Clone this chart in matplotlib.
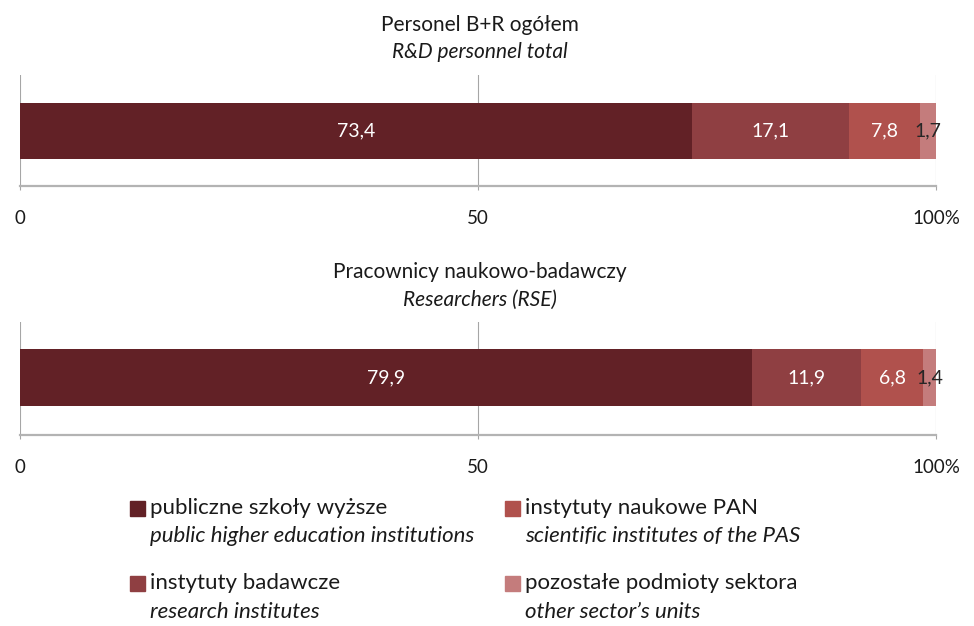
import matplotlib.pyplot as plt
from matplotlib.patches import Rectangle

plt.rcParams['font.family'] = ['Lato', 'DejaVu Sans']

sectors_pl = ["publiczne szkoły wyższe", "instytuty badawcze",
              "instytuty naukowe PAN", "pozostałe podmioty sektora"]
sectors_en = ["public higher education institutions", "research institutes",
              "scientific institutes of the PAS", "other sector\u2019s units"]
colors = ["#622126", "#8f3f42", "#b0514d", "#c47c7c"]
label_colors = ["white", "white", "white", "#262626"]

personnel = [73.4, 17.1, 7.8, 1.7]
researchers = [79.9, 11.9, 6.8, 1.4]

panels = [
    ("Personel B+R ogółem", "R&D personnel total", personnel, 0.7029, 0.1773, 0.495),
    ("Pracownicy naukowo-badawczy", "Researchers (RSE)", researchers, 0.3051, 0.1805, 0.509),
]

fig = plt.figure(figsize=(9.74, 6.26), dpi=100)

for title_pl, title_en, vals, bottom, height, ycen in panels:
    ax = fig.add_axes([0.0205, bottom, 0.9405, height])
    left = 0
    for v, c, lc in zip(vals, colors, label_colors):
        ax.barh(ycen, v, left=left, height=0.505, color=c, zorder=2)
        ax.text(left + v / 2, ycen, f"{v:.1f}".replace(".", ","), ha="center",
                va="center", color=lc, fontsize=14, zorder=3)
        left += v
    ax.set_xlim(0, 100)
    ax.set_ylim(0, 1)
    ax.set_xticks([0, 50, 100])
    ax.set_xticklabels(["0", "50", "100%"], fontsize=13.5, color="#1a1a1a")
    ax.set_yticks([])
    ax.grid(axis="x", color="#a6a6a6", linewidth=0.8, zorder=0)
    for s in ["top", "left", "right"]:
        ax.spines[s].set_visible(False)
    ax.spines["bottom"].set_color("#b3b3b3")
    ax.spines["bottom"].set_linewidth(1.6)
    ax.tick_params(axis="x", length=3, color="#a6a6a6", pad=14)
    fig.text(0.4928, bottom + height + 0.080, title_pl, ha="center", va="center",
             fontsize=15, color="#1a1a1a")
    fig.text(0.4928, bottom + height + 0.036, title_en, ha="center", va="center",
             fontsize=15, style="italic", color="#1a1a1a")

legend_pos = [(0.1335, 0.188), (0.1335, 0.068), (0.5185, 0.188), (0.5185, 0.068)]
for (x, y), c, pl, en in zip(legend_pos, colors, sectors_pl, sectors_en):
    fig.add_artist(Rectangle((x, y - 0.012), 0.0150, 0.024, color=c,
                             transform=fig.transFigure))
    fig.text(x + 0.0205, y, pl, ha="left", va="center", fontsize=16, color="#1a1a1a")
    fig.text(x + 0.0205, y - 0.045, en, ha="left", va="center", fontsize=16,
             style="italic", color="#1a1a1a")

fig.savefig("out.png", dpi=100)
